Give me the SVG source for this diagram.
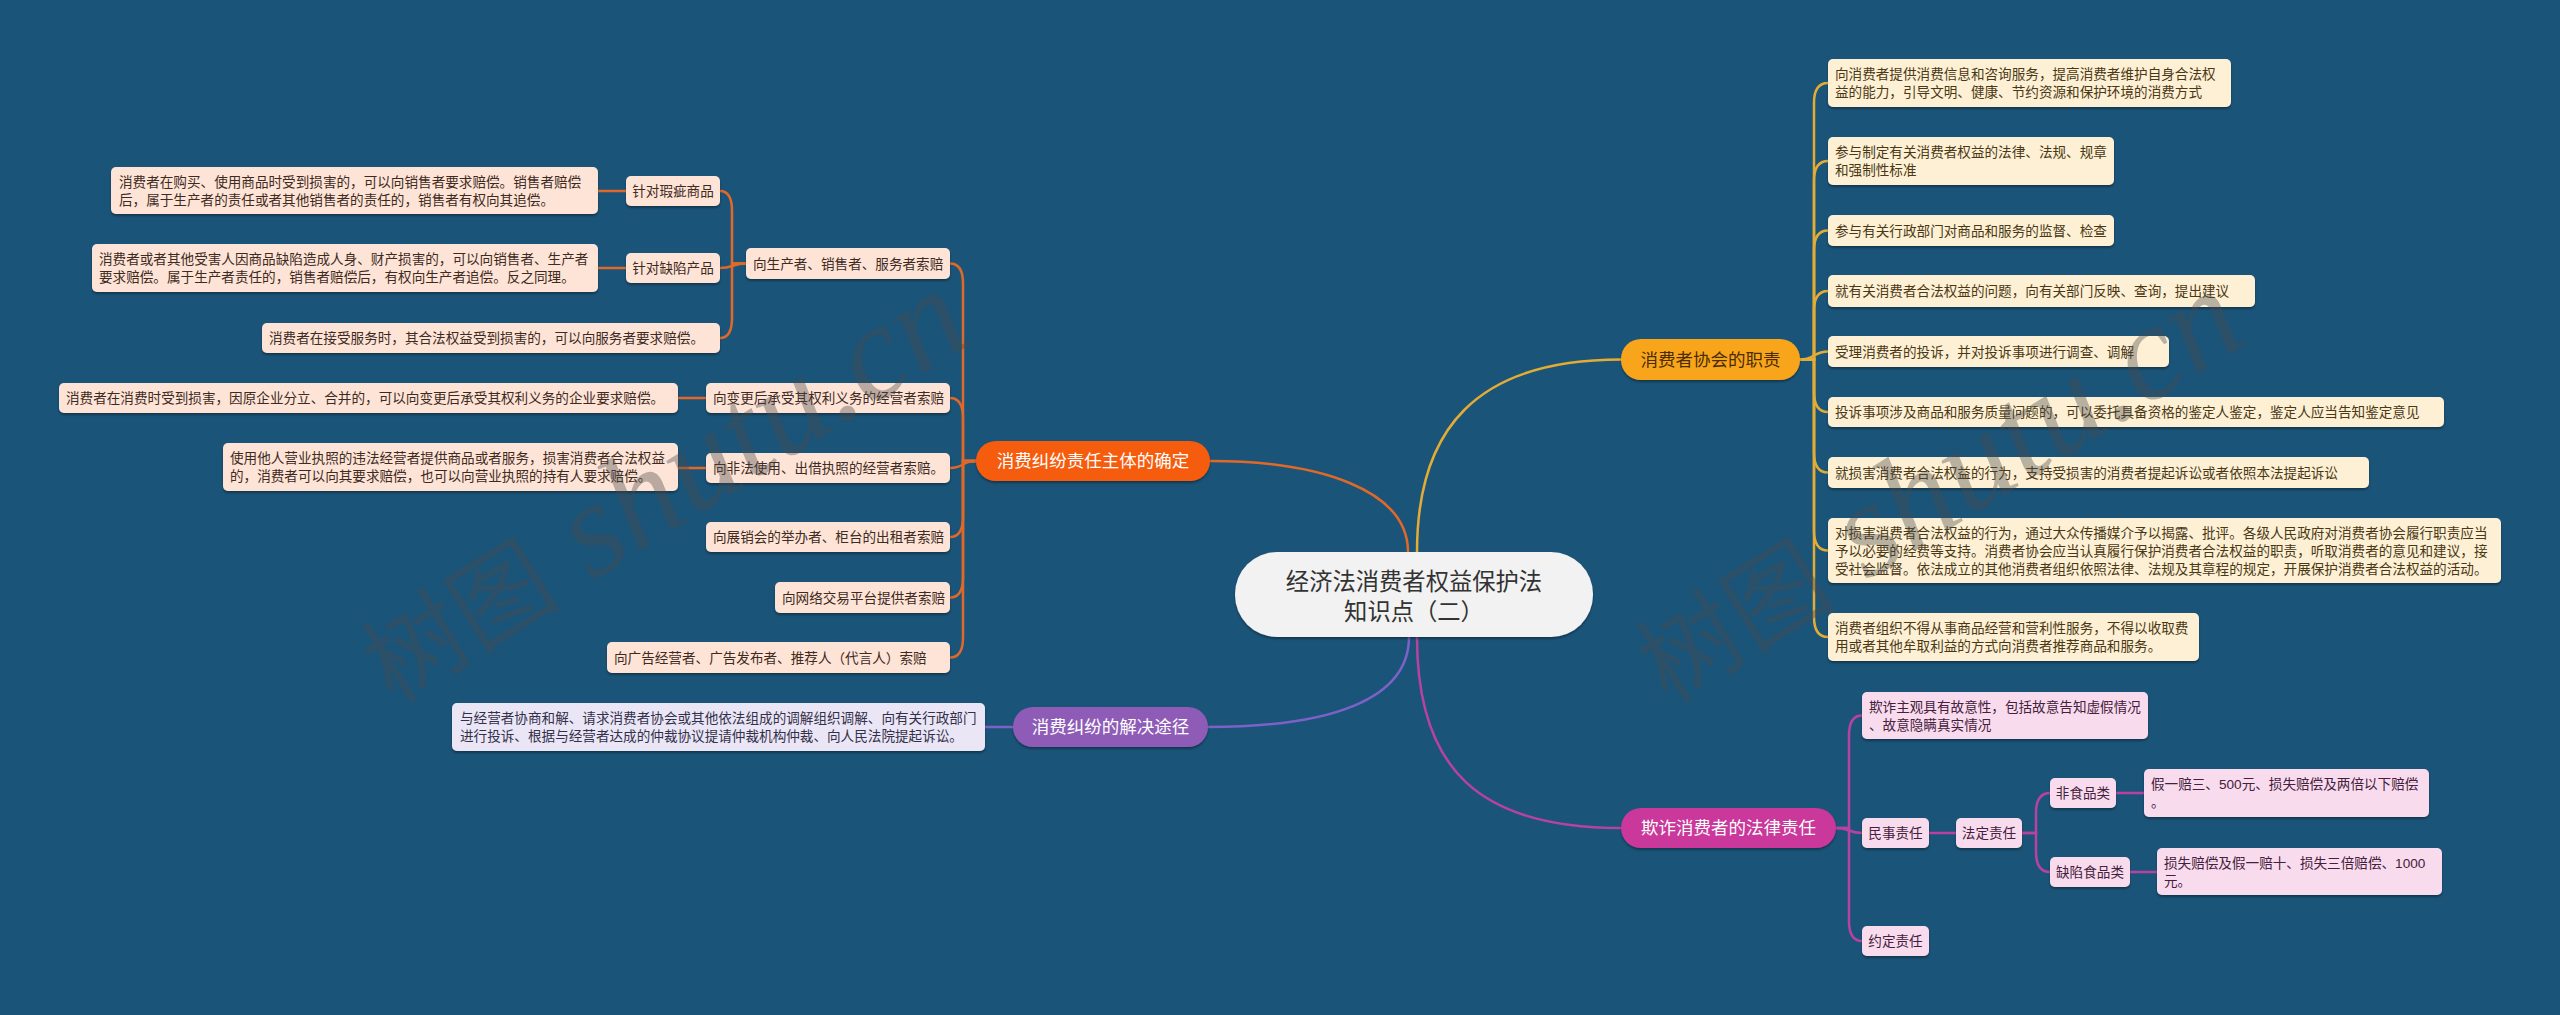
<svg xmlns="http://www.w3.org/2000/svg" width="2560" height="1015" viewBox="0 0 2560 1015">
<defs>
<filter id="sh" x="-5%" y="-20%" width="110%" height="150%">
<feDropShadow dx="0" dy="2" stdDeviation="1.2" flood-color="#000" flood-opacity="0.35"/>
</filter>
<style>
text{font-family:"Liberation Sans","Noto Sans CJK SC",sans-serif;}
.s{font-size:13.6px;}
.m{font-size:17.5px;}
.c{font-size:23.3px;fill:#333;}
.mid{text-anchor:middle;}
.fo{fill:#fde4d6;filter:url(#sh);}
.fy{fill:#fdf0d5;filter:url(#sh);}
.fp{fill:#ebe6f6;filter:url(#sh);}
.fm{fill:#f8dcee;filter:url(#sh);}
.to{fill:#3e2a1e;}
.ty{fill:#4a3814;}
.tp{fill:#33304a;}
.tm{fill:#45203c;}
.tw{fill:#fff;}
.lo{fill:none;stroke:#e0692a;stroke-width:2.5;stroke-linecap:round;}
.ly{fill:none;stroke:#e3ad35;stroke-width:2.5;stroke-linecap:round;}
.lp{fill:none;stroke:#7c62c6;stroke-width:2.5;stroke-linecap:round;}
.lm{fill:none;stroke:#b8429f;stroke-width:2.5;stroke-linecap:round;}
.wm{fill:#4a4a4a;fill-opacity:0.38;font-family:"Liberation Serif","Noto Sans CJK SC",serif;}
</style>
</defs>
<rect width="2560" height="1015" fill="#1b5479"/>

<g id="connectors">
<path class="lo" d="M1210 461 C1320 461 1408 490 1408 552"/>
<path class="ly" d="M1417 552 C1417 430 1475 359.5 1621 359.5"/>
<path class="lp" d="M1409 637 C1409 700 1330 727 1208 727"/>
<path class="lm" d="M1417 637 C1417 770 1480 828 1621 828"/>

<path class="lo" d="M976 461 H963 V283.5 Q963 263.5 950 263.5"/>
<path class="lo" d="M976 461 H963 V418 Q963 398 950 398"/>
<path class="lo" d="M976 461 C962 461 964 468 950 468"/>
<path class="lo" d="M976 461 H963 V517 Q963 537 950 537"/>
<path class="lo" d="M976 461 H963 V577.5 Q963 597.5 950 597.5"/>
<path class="lo" d="M976 461 H963 V637.5 Q963 657.5 950 657.5"/>
<path class="lo" d="M746 263.5 H732 V211 Q732 191 720 191"/>
<path class="lo" d="M746 263.5 C733 263.5 733 268 720 268"/>
<path class="lo" d="M746 263.5 H732 V318 Q732 338 720 338"/>
<path class="lo" d="M626 191 H598"/>
<path class="lo" d="M626 268 H598"/>
<path class="lo" d="M706 398 H678"/>
<path class="lo" d="M706 468 H678"/>

<path class="lp" d="M1013 727 H985"/>

<path class="ly" d="M1800 359.5 H1814 V103 Q1814 83 1828 83"/>
<path class="ly" d="M1800 359.5 H1814 V181 Q1814 161 1828 161"/>
<path class="ly" d="M1800 359.5 H1814 V250.5 Q1814 230.5 1828 230.5"/>
<path class="ly" d="M1800 359.5 H1814 V311 Q1814 291 1828 291"/>
<path class="ly" d="M1800 359.5 C1814 359.5 1814 351.5 1828 351.5"/>
<path class="ly" d="M1800 359.5 H1814 V392 Q1814 412 1828 412"/>
<path class="ly" d="M1800 359.5 H1814 V452.5 Q1814 472.5 1828 472.5"/>
<path class="ly" d="M1800 359.5 H1814 V530.5 Q1814 550.5 1828 550.5"/>
<path class="ly" d="M1800 359.5 H1814 V617 Q1814 637 1828 637"/>

<path class="lm" d="M1836 828 H1849 V735.5 Q1849 715.5 1862 715.5"/>
<path class="lm" d="M1836 828 C1849 828 1849 833 1862 833"/>
<path class="lm" d="M1836 828 H1849 V921 Q1849 941 1862 941"/>
<path class="lm" d="M1929 833 H1956"/>
<path class="lm" d="M2022 833 H2036 V813 Q2036 793 2050 793"/>
<path class="lm" d="M2022 833 H2036 V852 Q2036 872 2050 872"/>
<path class="lm" d="M2116 793 H2144"/>
<path class="lm" d="M2130 872 H2157"/>
</g>

<g id="root">
<rect x="1235" y="552" width="358" height="85" rx="42" fill="#f2f2f2" filter="url(#sh)"/>
<text class="c mid" x="1414" y="590">经济法消费者权益保护法</text>
<text class="c mid" x="1414" y="620">知识点（二）</text>
</g>

<g id="b-orange">
<rect x="976" y="441" width="234" height="40" rx="20" fill="#f65b0c" filter="url(#sh)"/>
<text class="m tw mid" x="1093" y="467">消费纠纷责任主体的确定</text>
</g>
<g id="o-prod"><rect class="fo" x="746" y="248" width="204" height="31" rx="5"/><text class="s to" x="753" y="268.5">向生产者、销售者、服务者索赔</text></g>
<g id="o-xc"><rect class="fo" x="626" y="176" width="94" height="30" rx="5"/><text class="s to mid" x="673" y="196">针对瑕疵商品</text></g>
<g id="o-qx"><rect class="fo" x="626" y="253" width="94" height="30" rx="5"/><text class="s to mid" x="673" y="273">针对缺陷产品</text></g>
<g id="o-a1"><rect class="fo" x="111" y="167" width="487" height="47" rx="5"/><text class="s to" x="119" y="186.5">消费者在购买、使用商品时受到损害的，可以向销售者要求赔偿。销售者赔偿</text><text class="s to" x="119" y="204.5">后，属于生产者的责任或者其他销售者的责任的，销售者有权向其追偿。</text></g>
<g id="o-a2"><rect class="fo" x="92" y="244" width="506" height="48" rx="5"/><text class="s to" x="99" y="264">消费者或者其他受害人因商品缺陷造成人身、财产损害的，可以向销售者、生产者</text><text class="s to" x="99" y="282">要求赔偿。属于生产者责任的，销售者赔偿后，有权向生产者追偿。反之同理。</text></g>
<g id="o-a3"><rect class="fo" x="262" y="323" width="458" height="30" rx="5"/><text class="s to" x="269" y="343">消费者在接受服务时，其合法权益受到损害的，可以向服务者要求赔偿。</text></g>
<g id="o-bg"><rect class="fo" x="706" y="383" width="244" height="30" rx="5"/><text class="s to" x="713" y="403">向变更后承受其权利义务的经营者索赔</text></g>
<g id="o-b1"><rect class="fo" x="59" y="383" width="619" height="30" rx="5"/><text class="s to" x="66" y="403">消费者在消费时受到损害，因原企业分立、合并的，可以向变更后承受其权利义务的企业要求赔偿。</text></g>
<g id="o-ff"><rect class="fo" x="706" y="453" width="244" height="30" rx="5"/><text class="s to" x="713" y="473">向非法使用、出借执照的经营者索赔。</text></g>
<g id="o-c1"><rect class="fo" x="223" y="443" width="455" height="48" rx="5"/><text class="s to" x="230" y="463">使用他人营业执照的违法经营者提供商品或者服务，损害消费者合法权益</text><text class="s to" x="230" y="481">的，消费者可以向其要求赔偿，也可以向营业执照的持有人要求赔偿。</text></g>
<g id="o-zx"><rect class="fo" x="706" y="522" width="244" height="30" rx="5"/><text class="s to" x="713" y="542">向展销会的举办者、柜台的出租者索赔</text></g>
<g id="o-wl"><rect class="fo" x="775" y="582" width="175" height="31" rx="5"/><text class="s to" x="782" y="602.5">向网络交易平台提供者索赔</text></g>
<g id="o-gg"><rect class="fo" x="607" y="642" width="343" height="31" rx="5"/><text class="s to" x="614" y="662.5">向广告经营者、广告发布者、推荐人（代言人）索赔</text></g>

<g id="b-purple">
<rect x="1013" y="707" width="195" height="40" rx="20" fill="#8e5bb7" filter="url(#sh)"/>
<text class="m tw mid" x="1110.5" y="733">消费纠纷的解决途径</text>
</g>
<g id="p-1"><rect class="fp" x="452" y="703" width="533" height="48" rx="5"/><text class="s tp" x="460" y="723">与经营者协商和解、请求消费者协会或其他依法组成的调解组织调解、向有关行政部门</text><text class="s tp" x="460" y="741">进行投诉、根据与经营者达成的仲裁协议提请仲裁机构仲裁、向人民法院提起诉讼。</text></g>

<g id="b-yellow">
<rect x="1621" y="339" width="179" height="41" rx="20" fill="#f9a51f" filter="url(#sh)"/>
<text class="m mid" x="1710.5" y="365.5" fill="#4a2c00">消费者协会的职责</text>
</g>
<g id="y-1"><rect class="fy" x="1828" y="59" width="403" height="48" rx="5"/><text class="s ty" x="1835" y="79">向消费者提供消费信息和咨询服务，提高消费者维护自身合法权</text><text class="s ty" x="1835" y="97">益的能力，引导文明、健康、节约资源和保护环境的消费方式</text></g>
<g id="y-2"><rect class="fy" x="1828" y="137" width="286" height="48" rx="5"/><text class="s ty" x="1835" y="157">参与制定有关消费者权益的法律、法规、规章</text><text class="s ty" x="1835" y="175">和强制性标准</text></g>
<g id="y-3"><rect class="fy" x="1828" y="215" width="286" height="31" rx="5"/><text class="s ty" x="1835" y="235.5">参与有关行政部门对商品和服务的监督、检查</text></g>
<g id="y-4"><rect class="fy" x="1828" y="275" width="427" height="32" rx="5"/><text class="s ty" x="1835" y="296">就有关消费者合法权益的问题，向有关部门反映、查询，提出建议</text></g>
<g id="y-5"><rect class="fy" x="1828" y="336" width="341" height="31" rx="5"/><text class="s ty" x="1835" y="356.5">受理消费者的投诉，并对投诉事项进行调查、调解</text></g>
<g id="y-6"><rect class="fy" x="1828" y="397" width="616" height="30" rx="5"/><text class="s ty" x="1835" y="417">投诉事项涉及商品和服务质量问题的，可以委托具备资格的鉴定人鉴定，鉴定人应当告知鉴定意见</text></g>
<g id="y-7"><rect class="fy" x="1828" y="457" width="541" height="31" rx="5"/><text class="s ty" x="1835" y="477.5">就损害消费者合法权益的行为，支持受损害的消费者提起诉讼或者依照本法提起诉讼</text></g>
<g id="y-8"><rect class="fy" x="1828" y="518" width="673" height="65" rx="5"/><text class="s ty" x="1835" y="537.5">对损害消费者合法权益的行为，通过大众传播媒介予以揭露、批评。各级人民政府对消费者协会履行职责应当</text><text class="s ty" x="1835" y="555.5">予以必要的经费等支持。消费者协会应当认真履行保护消费者合法权益的职责，听取消费者的意见和建议，接</text><text class="s ty" x="1835" y="573.5">受社会监督。依法成立的其他消费者组织依照法律、法规及其章程的规定，开展保护消费者合法权益的活动。</text></g>
<g id="y-9"><rect class="fy" x="1828" y="613" width="371" height="48" rx="5"/><text class="s ty" x="1835" y="633">消费者组织不得从事商品经营和营利性服务，不得以收取费</text><text class="s ty" x="1835" y="651">用或者其他牟取利益的方式向消费者推荐商品和服务。</text></g>

<g id="b-magenta">
<rect x="1621" y="808" width="215" height="40" rx="20" fill="#c9379a" filter="url(#sh)"/>
<text class="m tw mid" x="1728.5" y="834">欺诈消费者的法律责任</text>
</g>
<g id="m-1"><rect class="fm" x="1862" y="692" width="286" height="47" rx="5"/><text class="s tm" x="1869" y="711.5">欺诈主观具有故意性，包括故意告知虚假情况</text><text class="s tm" x="1869" y="729.5">、故意隐瞒真实情况</text></g>
<g id="m-ms"><rect class="fm" x="1862" y="818" width="67" height="30" rx="5"/><text class="s tm mid" x="1895.5" y="838">民事责任</text></g>
<g id="m-fd"><rect class="fm" x="1956" y="818" width="66" height="30" rx="5"/><text class="s tm mid" x="1989" y="838">法定责任</text></g>
<g id="m-fsp"><rect class="fm" x="2050" y="778" width="66" height="30" rx="5"/><text class="s tm mid" x="2083" y="798">非食品类</text></g>
<g id="m-qx"><rect class="fm" x="2050" y="857" width="80" height="30" rx="5"/><text class="s tm mid" x="2090" y="877">缺陷食品类</text></g>
<g id="m-j3"><rect class="fm" x="2144" y="769" width="285" height="48" rx="5"/><text class="s tm" x="2151" y="789">假一赔三、500元、损失赔偿及两倍以下赔偿</text><text class="s tm" x="2151" y="807">。</text></g>
<g id="m-j10"><rect class="fm" x="2157" y="848" width="285" height="47" rx="5"/><text class="s tm" x="2164" y="867.5">损失赔偿及假一赔十、损失三倍赔偿、1000</text><text class="s tm" x="2164" y="885.5">元。</text></g>
<g id="m-yd"><rect class="fm" x="1862" y="926" width="67" height="30" rx="5"/><text class="s tm mid" x="1895.5" y="946">约定责任</text></g>

<g id="watermark">
<text class="wm" transform="translate(393,705) rotate(-32)"><tspan font-size="100">树图</tspan><tspan font-size="135" font-style="italic"> shutu.cn</tspan></text>
<text class="wm" transform="translate(1668,705) rotate(-32)"><tspan font-size="100">树图</tspan><tspan font-size="135" font-style="italic"> shutu.cn</tspan></text>
</g>
</svg>
